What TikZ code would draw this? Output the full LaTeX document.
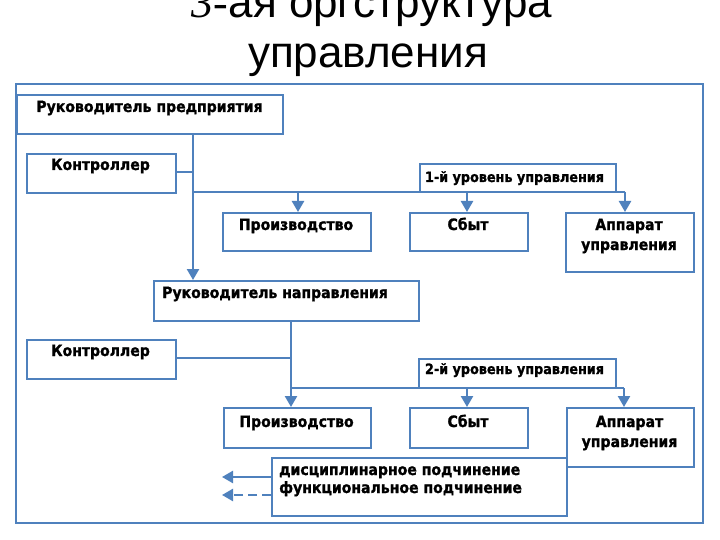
\documentclass[tikz,border=0pt]{standalone}
\usepackage{fontspec}
\setmainfont{Liberation Sans}
\newfontfamily\bxf{DejaVu Sans}[FakeStretch=0.9, BoldFeatures={FakeBold=1.2}]
\newfontfamily\ttlserif{Liberation Serif}
\usetikzlibrary{arrows.meta}
\definecolor{bl}{HTML}{4F81BD}
\tikzset{
  box/.style={draw=bl, line width=2.4pt, fill=white, anchor=north west, inner sep=0pt},
  txt/.style={font=\bxf\bfseries\fontsize{15.6}{18}\selectfont, inner sep=0pt, anchor=base},
  stxt/.style={font=\bxf\bfseries\fontsize{14.2}{17}\selectfont, inner sep=0pt, anchor=base},
  ttl/.style={font=\fontsize{44}{50}\selectfont, inner sep=0pt, anchor=base},
  conn/.style={draw=bl, line width=2.4pt},
  arr/.style={conn, -{Triangle[width=12pt,length=11pt]}},
}
\begin{document}
\begin{tikzpicture}[x=1pt,y=-1pt]
\useasboundingbox (0,0) rectangle (720,540);
\clip (0,0) rectangle (720,540);
\fill[white] (0,0) rectangle (720,540);
% title
\node[ttl] (t1) at (372,18) {{\ttlserif\itshape 3-}ая оргструктура};
\node[ttl] (t2) at (368,68) {управления};
% frame
\draw[conn] (16,84) rectangle (703,523);
% level 1
\node[box, minimum width=266pt, minimum height=39pt] (rp) at (16,94) {};
\node[txt] (trp) at (149.5,112) {Руководитель предприятия};
\node[box, minimum width=149pt, minimum height=39pt] (k1) at (26,153) {};
\node[txt] (tk1) at (100.5,170) {Контроллер};
\node[box, minimum width=196pt, minimum height=28pt] (u1) at (419,163) {};
\node[stxt] (tu1) at (514.5,182) {1-й уровень управления};
\node[box, minimum width=148pt, minimum height=38pt] (p1) at (222,212) {};
\node[txt] (tp1) at (296,230) {Производство};
\node[box, minimum width=118pt, minimum height=38pt] (s1) at (409,212) {};
\node[txt] (ts1) at (468,230) {Сбыт};
\node[box, minimum width=128pt, minimum height=59pt] (a1) at (565,212) {};
\node[txt] (ta1) at (629,230) {Аппарат};
\node[txt] (ta1b) at (629,250) {управления};
\coordinate (j1) at (193,172);
\coordinate (b1) at (193,192);
\draw[conn] (k1.east |- j1) -- (j1);
\draw[conn] (b1) -- (625,192);
\draw[arr] (298,192) -- (298,212);
\draw[arr] (467,192) -- (467,212);
\draw[arr] (625,192) -- (625,212);
% level 2
\node[box, minimum width=265pt, minimum height=40pt] (rn) at (153,280) {};
\node[txt, anchor=base west] (trn) at (162,298) {Руководитель направления};
\draw[arr] (193,133) -- (193,280);
\node[box, minimum width=149pt, minimum height=39pt] (k2) at (26,339) {};
\node[txt] (tk2) at (100.5,356) {Контроллер};
\node[box, minimum width=197pt, minimum height=29pt] (u2) at (418,358) {};
\node[stxt] (tu2) at (514.5,374) {2-й уровень управления};
\node[box, minimum width=147pt, minimum height=40pt] (p2) at (223,407) {};
\node[txt] (tp2) at (296.5,427) {Производство};
\node[box, minimum width=118pt, minimum height=40pt] (s2) at (409,407) {};
\node[txt] (ts2) at (468,427) {Сбыт};
\node[box, minimum width=127pt, minimum height=59pt] (a2) at (566,407) {};
\node[txt] (ta2) at (629.5,427) {Аппарат};
\node[txt] (ta2b) at (629.5,447) {управления};
\coordinate (j2) at (291,358);
\draw[conn] (k2.east |- j2) -- (j2);
\draw[arr] (291,320) -- (291,407);
\draw[conn] (291,388) -- (624,388);
\draw[arr] (467,388) -- (467,407);
\draw[arr] (624,388) -- (624,407);
% legend
\node[box, minimum width=295pt, minimum height=58pt] (lg) at (271,457) {};
\node[txt, anchor=base west] (lg1) at (279,475) {дисциплинарное подчинение};
\node[txt, anchor=base west] (lg2) at (279,493) {функциональное подчинение};
\coordinate (e1) at (222,477);
\coordinate (e2) at (222,495);
\draw[arr] (lg.west |- e1) -- (e1);
\draw[arr, dashed, dash pattern=on 9pt off 5pt] (lg.west |- e2) -- (e2);
\end{tikzpicture}
\end{document}
